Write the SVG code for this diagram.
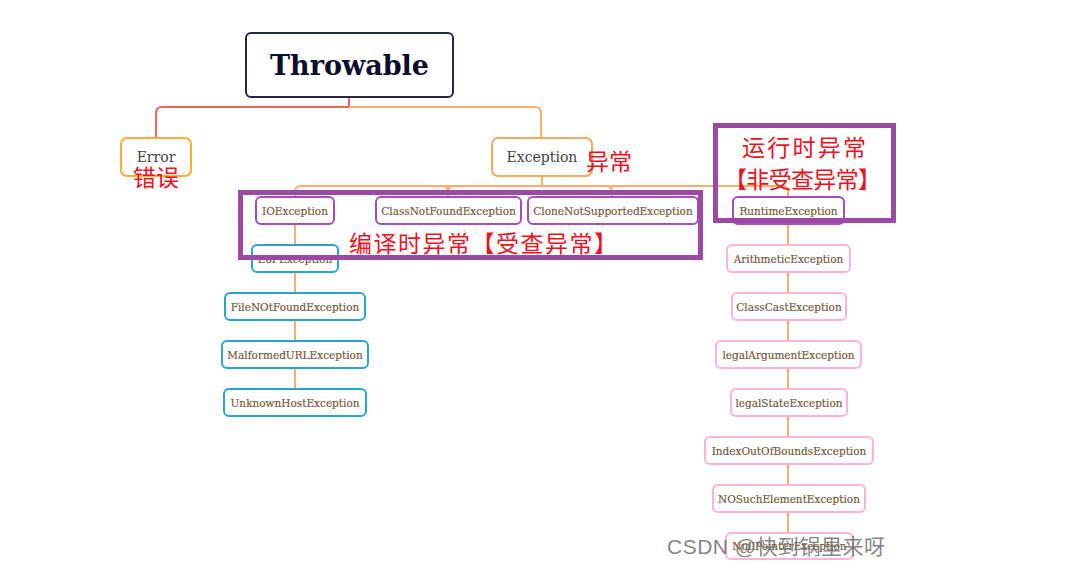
<svg xmlns="http://www.w3.org/2000/svg" width="1074" height="581" viewBox="0 0 1074 581">
<style>
.n rect{fill:#fff;stroke-width:2}
.sub text{font-family:"DejaVu Serif","Liberation Serif",serif;font-size:10.5px;fill:#765536;stroke:#765536;stroke-width:0.15;text-anchor:middle;dominant-baseline:central}
.blue rect{stroke:#2aa6cc}
.pink rect{stroke:#ffb3d9}
.purp rect{stroke:#a64cb8}
.cn{font-family:"Noto Sans CJK SC",sans-serif;fill:#f0101e;font-size:23px}
.c{fill:none;stroke:#f8ad6a;stroke-width:2}
.big{fill:none;stroke:#9b49a5;stroke-width:5}
</style>
<rect width="1074" height="581" fill="#fff"/>
<g id="connectors">
<path d="M349,97 V107 H162 Q156,107 156,113 V138" fill="none" stroke="#f2625e" stroke-width="2"/>
<path class="c" d="M349,107 H535 Q541,107 541,113 V138"/>
<path class="c" d="M542,176 V186 M301,186 H782 M301,186 Q295,186 295,192 V197 M442,186 Q448,186 448,192 V197 M454,186 Q448,186 448,192 M606,186 Q612,186 612,192 V197 M782,186 Q788,186 788,192 V197"/>
<path class="c" d="M295,224 V389"/>
<path class="c" d="M788,224 V533"/>
</g>
<g id="throwable" class="n">
<rect x="246" y="33" width="207" height="64" rx="5" stroke="#262645"/>
<text x="349.5" y="65" text-anchor="middle" dominant-baseline="central" font-family="DejaVu Serif,serif" font-weight="bold" font-size="27" fill="#0d0d2e">Throwable</text>
</g>
<g id="error" class="n">
<rect x="121" y="138" width="70" height="38" rx="6" stroke="#ffad33"/>
<text x="156" y="157" text-anchor="middle" dominant-baseline="central" font-family="DejaVu Serif,serif" font-size="14" fill="#444">Error</text>
</g>
<text class="cn" x="133" y="186">错误</text>
<g id="exception" class="n">
<rect x="492" y="138" width="100" height="38" rx="6" stroke="#f8a860"/>
<text x="542" y="157" text-anchor="middle" dominant-baseline="central" font-family="DejaVu Serif,serif" font-size="14" fill="#444">Exception</text>
</g>
<text class="cn" x="586" y="170" font-size="22">异常</text>
<g id="ioexception" class="n sub purp"><rect x="256" y="197" width="78" height="27" rx="5"/><text x="295" y="210.5">IOException</text></g>
<g id="classnotfound" class="n sub purp"><rect x="376" y="197" width="145" height="27" rx="5"/><text x="448.5" y="210.5">ClassNotFoundException</text></g>
<g id="clonenotsupported" class="n sub purp"><rect x="528" y="197" width="170" height="27" rx="5"/><text x="613" y="210.5">CloneNotSupportedException</text></g>
<g id="runtime" class="n sub purp"><rect x="733" y="197" width="111" height="27" rx="5"/><text x="788.5" y="210.5">RuntimeException</text></g>
<g id="eof" class="n sub blue"><rect x="252" y="245" width="86" height="27" rx="5"/><text x="295" y="258.5">EoFException</text></g>
<g id="filenotfound" class="n sub blue"><rect x="225" y="293" width="140" height="27" rx="5"/><text x="295" y="306.5">FileNOtFoundException</text></g>
<g id="malformed" class="n sub blue"><rect x="222" y="341" width="146" height="27" rx="5"/><text x="295" y="354.5">MalformedURLException</text></g>
<g id="unknownhost" class="n sub blue"><rect x="224" y="389" width="142" height="27" rx="5"/><text x="295" y="402.5">UnknownHostException</text></g>
<g id="arithmetic" class="n sub pink"><rect x="727" y="245" width="123" height="27" rx="5"/><text x="788.5" y="258.5">ArithmeticException</text></g>
<g id="classcast" class="n sub pink"><rect x="732" y="293" width="114" height="27" rx="5"/><text x="789" y="306.5">ClassCastException</text></g>
<g id="legalargument" class="n sub pink"><rect x="716" y="341" width="145" height="27" rx="5"/><text x="788.5" y="354.5">legalArgumentException</text></g>
<g id="legalstate" class="n sub pink"><rect x="731" y="389" width="116" height="27" rx="5"/><text x="789" y="402.5">legalStateException</text></g>
<g id="indexoutofbounds" class="n sub pink"><rect x="705" y="437" width="168" height="27" rx="5"/><text x="789" y="450.5">IndexOutOfBoundsException</text></g>
<g id="nosuchelement" class="n sub pink"><rect x="713" y="485" width="152" height="27" rx="5"/><text x="789" y="498.5">NOSuchElementException</text></g>
<g id="nullpointer" class="n sub pink"><rect x="726" y="533" width="127" height="26" rx="5"/><text x="789.5" y="546">NullPointerException</text></g>
<g id="checked-box">
<rect class="big" x="240.5" y="192.5" width="460" height="65"/>
<text class="cn" x="349" y="252" font-size="24" textLength="268" lengthAdjust="spacing">编译时异常【受查异常】</text>
</g>
<g id="unchecked-box">
<rect class="big" x="715.5" y="125.5" width="178" height="95"/>
<text class="cn" x="742" y="156" font-size="24" textLength="124" lengthAdjust="spacing">运行时异常</text>
<text class="cn" x="724" y="188" font-size="23" textLength="157" lengthAdjust="spacing">【非受查异常】</text>
</g>
<text x="667" y="554" font-family="Liberation Sans,Noto Sans CJK SC,sans-serif" font-size="21" fill="#6e6e6e" fill-opacity="0.85" textLength="218" lengthAdjust="spacing">CSDN @快到锅里来呀</text>
</svg>
